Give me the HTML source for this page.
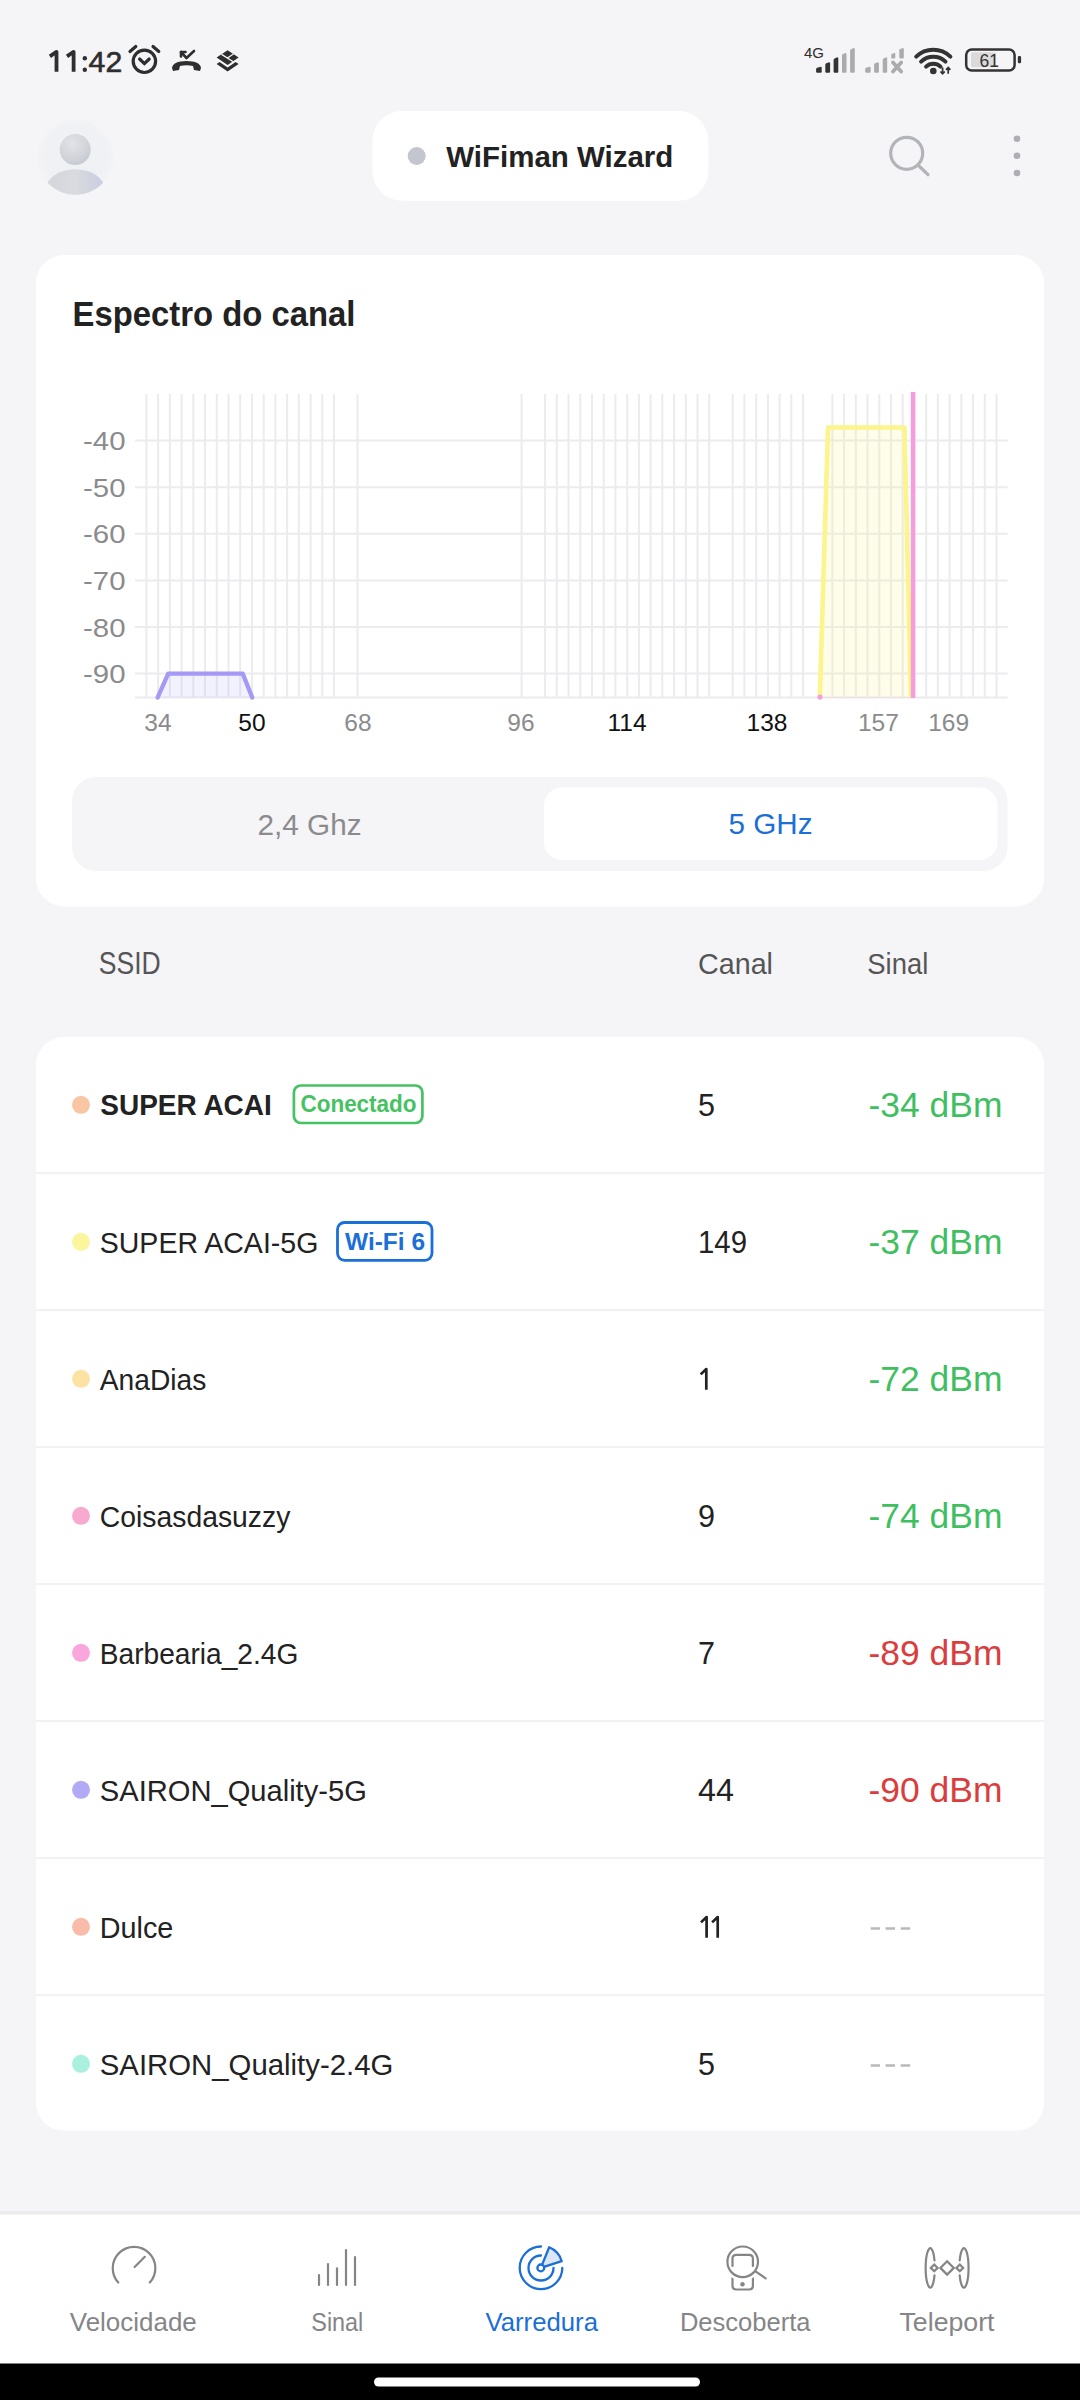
<!DOCTYPE html>
<html><head><meta charset="utf-8"><title>WiFiman</title>
<style>
html,body{margin:0;padding:0;background:#f5f5f7;}
body{width:1080px;height:2400px;overflow:hidden;position:relative;font-family:"Liberation Sans",sans-serif;}
svg{position:absolute;left:0;top:0;}
svg text{font-family:"Liberation Sans",sans-serif;white-space:pre;}
</style></head><body>
<svg width="1080" height="2400" viewBox="0 0 1080 2400">
<path d="M56.5 71.8V51.8L49.9 56.4" stroke="#2e2e2e" stroke-width="3.8" fill="none" stroke-linejoin="round"/>
<path d="M73.6 71.8V51.8L67.0 56.4" stroke="#2e2e2e" stroke-width="3.8" fill="none" stroke-linejoin="round"/>
<circle cx="84.8" cy="58.2" r="2.2" fill="#2e2e2e"/><circle cx="84.8" cy="69.8" r="2.2" fill="#2e2e2e"/>
<text x="88.6" y="71.7" font-size="29.5" font-weight="400" fill="#2e2e2e" text-anchor="start" textLength="33.6" lengthAdjust="spacingAndGlyphs" stroke="#2e2e2e" stroke-width="0.6">42</text>
<g fill="none" stroke="#2e2e2e" stroke-width="3.2" stroke-linecap="round"><circle cx="144.4" cy="61.3" r="11.2"/><path d="M139.6 59 L144.4 63.6 L149.2 59"/><path d="M130 51.5 L135.8 46.5" /><path d="M158.8 51.5 L153 46.5"/></g>
<g fill="#2e2e2e"><path d="M172 68 Q173 61 186.5 61 Q200 61 201 68 L200 71 L194 70 L193 66 Q186.5 64.5 180 66 L179 70 L173 71 Z"/></g><g fill="none" stroke="#2e2e2e" stroke-width="2.6" stroke-linecap="round" stroke-linejoin="round"><path d="M181 52 L186.5 58 L194 51"/><path d="M181 52 L181 56.5 M181 52 L185.5 52"/></g>
<path d="M216.6 57.6 L227.6 50.2 L238.6 57.6 L227.6 65 Z" fill="#2e2e2e"/><path d="M221.6 54.4 L233.2 61.7 M227.4 58 L233.4 54" stroke="#f5f5f7" stroke-width="1.3" fill="none"/><path d="M216.6 64 L219.6 62 L227.6 67.4 L235.6 62 L238.6 64 L227.6 71.5 Z" fill="#2e2e2e"/>
<text x="804" y="57.8" font-size="15" font-weight="400" fill="#2e2e2e" text-anchor="start" textLength="20" lengthAdjust="spacingAndGlyphs" >4G</text>
<path d="M816.1 71.8V69.3Q816.1 68.3 817.1 67.82000000000001L820.7 66.7Q821.7 66.7 821.7 67.7V71.8Q821.7 72.8 820.7 72.8H817.1Q816.1 72.8 816.1 71.8Z" fill="#333"/>
<path d="M825.3 71.8V64.80000000000001Q825.3 63.800000000000004 826.3 63.32L829.1 62.2Q830.1 62.2 830.1 63.2V71.8Q830.1 72.8 829.1 72.8H826.3Q825.3 72.8 825.3 71.8Z" fill="#333"/>
<path d="M833.6 71.8V59.9Q833.6 58.9 834.6 58.419999999999995L837.3 57.3Q838.3 57.3 838.3 58.3V71.8Q838.3 72.8 837.3 72.8H834.6Q833.6 72.8 833.6 71.8Z" fill="#333"/>
<path d="M842 71.8V55.6Q842 54.6 843 54.12L845.5 53Q846.5 53 846.5 54V71.8Q846.5 72.8 845.5 72.8H843Q842 72.8 842 71.8Z" fill="#ababab"/>
<path d="M850.1 71.8V50.7Q850.1 49.7 851.1 49.22L853.8 48.1Q854.8 48.1 854.8 49.1V71.8Q854.8 72.8 853.8 72.8H851.1Q850.1 72.8 850.1 71.8Z" fill="#ababab"/>
<path d="M865.2 71.8V69.3Q865.2 68.3 866.2 67.82000000000001L869.6 66.7Q870.6 66.7 870.6 67.7V71.8Q870.6 72.8 869.6 72.8H866.2Q865.2 72.8 865.2 71.8Z" fill="#ababab"/>
<path d="M874.1 71.8V64.80000000000001Q874.1 63.800000000000004 875.1 63.32L877.9 62.2Q878.9 62.2 878.9 63.2V71.8Q878.9 72.8 877.9 72.8H875.1Q874.1 72.8 874.1 71.8Z" fill="#ababab"/>
<path d="M882.7 71.8V59.9Q882.7 58.9 883.7 58.419999999999995L886.2 57.3Q887.2 57.3 887.2 58.3V71.8Q887.2 72.8 886.2 72.8H883.7Q882.7 72.8 882.7 71.8Z" fill="#ababab"/>
<path d="M891.2 57.6V55.2Q891.2 54.2 892.2 53.84L894.3 53Q895.3 53 895.3 54V57.6Q895.3 58.6 894.3 58.6H892.2Q891.2 58.6 891.2 57.6Z" fill="#ababab"/>
<path d="M899.3 57.6V50.300000000000004Q899.3 49.300000000000004 900.3 48.940000000000005L902.8 48.1Q903.8 48.1 903.8 49.1V57.6Q903.8 58.6 902.8 58.6H900.3Q899.3 58.6 899.3 57.6Z" fill="#ababab"/>
<path d="M893 62.5 L901.2 71.6 M901.2 62.5 L893 71.6" stroke="#ababab" stroke-width="3.8" stroke-linecap="round"/>
<g fill="none" stroke="#333" stroke-width="4" stroke-linecap="round"><path d="M916.2 56.6 A24.6 24.6 0 0 1 950.4 56.6"/><path d="M921.1 61.6 A17.6 17.6 0 0 1 945.5 61.6"/><path d="M926.1 66.6 A10.4 10.4 0 0 1 940.5 66.6"/></g><circle cx="933.3" cy="71" r="3.3" fill="#333"/>
<path d="M942.6 67.5V73.8M940.4 71.5L942.6 73.8L944.8 71.5M948.2 73.8V67.5M946 69.8L948.2 67.5L950.4 69.8" stroke="#333" stroke-width="1.7" fill="none"/>
<rect x="966.2" y="49.5" width="48.4" height="21" rx="5.5" fill="none" stroke="#333" stroke-width="2.5"/><rect x="971" y="52.2" width="25" height="15" rx="1.5" fill="#dadada"/><rect x="1017.8" y="56.1" width="3.3" height="7.2" rx="1.3" fill="#333"/>
<text x="979.6" y="67.4" font-size="18" font-weight="400" fill="#333" text-anchor="start" textLength="19.5" lengthAdjust="spacingAndGlyphs" >61</text>
<defs><radialGradient id="hg" cx="0.4" cy="0.3" r="0.8"><stop offset="0" stop-color="#e2e3e7"/><stop offset="0.6" stop-color="#d2d4da"/><stop offset="1" stop-color="#c3c6d0"/></radialGradient><linearGradient id="bg2" x1="0" y1="0" x2="1" y2="0"><stop offset="0" stop-color="#d3d5da"/><stop offset="0.5" stop-color="#d9dbe0"/><stop offset="1" stop-color="#c8cce0"/></linearGradient><radialGradient id="avg" cx="0.5" cy="0.5" r="0.5"><stop offset="0.8" stop-color="#f0f1f4"/><stop offset="1" stop-color="#f3f3f6"/></radialGradient><clipPath id="avc"><circle cx="75.4" cy="157" r="38"/></clipPath></defs>
<circle cx="75.4" cy="157" r="38" fill="url(#avg)"/>
<circle cx="75.2" cy="149.6" r="15.5" fill="url(#hg)"/>
<ellipse cx="75.3" cy="189.3" rx="29.5" ry="20" fill="url(#bg2)" clip-path="url(#avc)"/>
<rect x="372.3" y="111" width="336" height="89.7" rx="30" fill="#fff"/>
<circle cx="416.7" cy="156" r="9" fill="#c3c5cf"/>
<text x="446.3" y="166.7" font-size="30" font-weight="700" fill="#222" text-anchor="start" textLength="227" lengthAdjust="spacingAndGlyphs" >WiFiman Wizard</text>
<g fill="none" stroke="#b3b4b9" stroke-width="3.2" stroke-linecap="round"><circle cx="906.7" cy="153.3" r="16"/><path d="M919.5 166.5 L928 174.7"/></g>
<circle cx="1017" cy="138.8" r="3.3" fill="#adaeb3"/>
<circle cx="1017" cy="155.8" r="3.3" fill="#adaeb3"/>
<circle cx="1017" cy="173" r="3.3" fill="#adaeb3"/>
<rect x="36" y="255" width="1008" height="651.5" rx="28" fill="#fff"/>
<text x="72.5" y="326" font-size="35" font-weight="700" fill="#222" text-anchor="start" textLength="283" lengthAdjust="spacingAndGlyphs" >Espectro do canal</text>
<path d="M146.4 394V697.6M158.1 394V697.6M169.9 394V697.6M181.6 394V697.6M193.3 394V697.6M205.0 394V697.6M216.8 394V697.6M228.5 394V697.6M240.2 394V697.6M251.9 394V697.6M263.7 394V697.6M275.4 394V697.6M287.1 394V697.6M298.8 394V697.6M310.6 394V697.6M322.3 394V697.6M334.0 394V697.6M357.5 394V697.6M521.6 394V697.6M545.1 394V697.6M556.8 394V697.6M568.5 394V697.6M580.3 394V697.6M592.0 394V697.6M603.7 394V697.6M615.4 394V697.6M627.2 394V697.6M638.9 394V697.6M650.6 394V697.6M662.3 394V697.6M674.1 394V697.6M685.8 394V697.6M697.5 394V697.6M709.2 394V697.6M732.7 394V697.6M744.4 394V697.6M756.2 394V697.6M767.9 394V697.6M779.6 394V697.6M791.3 394V697.6M803.1 394V697.6M832.4 394V697.6M844.1 394V697.6M855.8 394V697.6M867.5 394V697.6M879.3 394V697.6M891.0 394V697.6M902.7 394V697.6M914.5 394V697.6M926.2 394V697.6M937.9 394V697.6M949.6 394V697.6M961.4 394V697.6M973.1 394V697.6M984.8 394V697.6M996.5 394V697.6" stroke="#ececef" stroke-width="2" fill="none"/>
<path d="M135 440.6H1007.6M135 487.2H1007.6M135 533.8H1007.6M135 580.4H1007.6M135 627.0H1007.6M135 673.6H1007.6M135 697.6H1007.6" stroke="#ececef" stroke-width="2" fill="none"/>
<text x="83" y="450.1" font-size="26.5" font-weight="400" fill="#8b8b8d" text-anchor="start" textLength="42.5" lengthAdjust="spacingAndGlyphs" >-40</text>
<text x="83" y="496.70000000000005" font-size="26.5" font-weight="400" fill="#8b8b8d" text-anchor="start" textLength="42.5" lengthAdjust="spacingAndGlyphs" >-50</text>
<text x="83" y="543.3000000000001" font-size="26.5" font-weight="400" fill="#8b8b8d" text-anchor="start" textLength="42.5" lengthAdjust="spacingAndGlyphs" >-60</text>
<text x="83" y="589.9000000000001" font-size="26.5" font-weight="400" fill="#8b8b8d" text-anchor="start" textLength="42.5" lengthAdjust="spacingAndGlyphs" >-70</text>
<text x="83" y="636.5" font-size="26.5" font-weight="400" fill="#8b8b8d" text-anchor="start" textLength="42.5" lengthAdjust="spacingAndGlyphs" >-80</text>
<text x="83" y="683.1" font-size="26.5" font-weight="400" fill="#8b8b8d" text-anchor="start" textLength="42.5" lengthAdjust="spacingAndGlyphs" >-90</text>
<text x="158" y="730.7" font-size="24.5" font-weight="400" fill="#8b8b8d" text-anchor="middle" >34</text>
<text x="252" y="730.7" font-size="24.5" font-weight="400" fill="#111" text-anchor="middle" >50</text>
<text x="358" y="730.7" font-size="24.5" font-weight="400" fill="#8b8b8d" text-anchor="middle" >68</text>
<text x="521" y="730.7" font-size="24.5" font-weight="400" fill="#8b8b8d" text-anchor="middle" >96</text>
<text x="627" y="730.7" font-size="24.5" font-weight="400" fill="#111" text-anchor="middle" >114</text>
<text x="767" y="730.7" font-size="24.5" font-weight="400" fill="#111" text-anchor="middle" >138</text>
<text x="878.4" y="730.7" font-size="24.5" font-weight="400" fill="#8b8b8d" text-anchor="middle" >157</text>
<text x="948.6" y="730.7" font-size="24.5" font-weight="400" fill="#8b8b8d" text-anchor="middle" >169</text>
<path d="M157.6 697.6 L168.2 673.6 L242.7 673.6 L252.3 697.6 Z" fill="#a499f5" fill-opacity="0.14" stroke="none"/>
<path d="M157.6 697.6 L168.2 673.6 L242.7 673.6 L252.3 697.6" fill="none" stroke="#a499f5" stroke-width="4.3" stroke-linejoin="round" stroke-linecap="round"/>
<path d="M819.8 697.6 L828 427.5 L904.4 427.5 L911 697.6 Z" fill="#fcf38a" fill-opacity="0.18" stroke="none"/>
<path d="M819.8 697.6 L828 427.5 L904.4 427.5 L911 697.6" fill="none" stroke="#fcf48c" stroke-width="4.6" stroke-linejoin="round"/>
<path d="M820 697.6 H913" stroke="#f7d0ee" stroke-width="1" stroke-opacity="0.5"/>
<rect x="910.8" y="392" width="4.5" height="306" fill="#f59ddd"/>
<circle cx="820" cy="697" r="2.6" fill="#f59ddd"/>
<rect x="72" y="777" width="935.5" height="94" rx="24" fill="#f5f5f7"/>
<rect x="544" y="787.5" width="453.5" height="72.5" rx="18" fill="#fff"/>
<text x="257.5" y="835" font-size="30" font-weight="400" fill="#8b8b8e" text-anchor="start" textLength="104" lengthAdjust="spacingAndGlyphs" >2,4 Ghz</text>
<text x="728.5" y="834.4" font-size="30" font-weight="400" fill="#1b6fd6" text-anchor="start" textLength="84" lengthAdjust="spacingAndGlyphs" >5 GHz</text>
<text x="98.8" y="973.8" font-size="31" font-weight="400" fill="#555558" text-anchor="start" textLength="62" lengthAdjust="spacingAndGlyphs" >SSID</text>
<text x="698" y="974" font-size="30" font-weight="400" fill="#555558" text-anchor="start" textLength="75" lengthAdjust="spacingAndGlyphs" >Canal</text>
<text x="867.3" y="974" font-size="30" font-weight="400" fill="#555558" text-anchor="start" textLength="61" lengthAdjust="spacingAndGlyphs" >Sinal</text>
<rect x="36" y="1037" width="1008" height="1093.6" rx="28" fill="#fff"/>
<rect x="36" y="1172" width="1008" height="2.2" fill="#f2f2f4"/>
<rect x="36" y="1309" width="1008" height="2.2" fill="#f2f2f4"/>
<rect x="36" y="1446" width="1008" height="2.2" fill="#f2f2f4"/>
<rect x="36" y="1583" width="1008" height="2.2" fill="#f2f2f4"/>
<rect x="36" y="1720" width="1008" height="2.2" fill="#f2f2f4"/>
<rect x="36" y="1857" width="1008" height="2.2" fill="#f2f2f4"/>
<rect x="36" y="1994" width="1008" height="2.2" fill="#f2f2f4"/>
<circle cx="81" cy="1104.8" r="9" fill="#f9c6a4"/>
<text x="100.3" y="1115" font-size="30.3" font-weight="700" fill="#222" text-anchor="start" textLength="171.5" lengthAdjust="spacingAndGlyphs" >SUPER ACAI</text>
<text x="698" y="1115.8" font-size="30.5" font-weight="400" fill="#222" text-anchor="start" textLength="17" lengthAdjust="spacingAndGlyphs" >5</text>
<text x="868.5" y="1116.8" font-size="34.5" font-weight="400" fill="#3fbf5f" text-anchor="start" textLength="134" lengthAdjust="spacingAndGlyphs" >-34 dBm</text>
<circle cx="81" cy="1241.8" r="9" fill="#fbf59c"/>
<text x="99.8" y="1253" font-size="29.3" font-weight="400" fill="#222" text-anchor="start" textLength="218.5" lengthAdjust="spacingAndGlyphs" >SUPER ACAI-5G</text>
<text x="698" y="1252.8" font-size="30.5" font-weight="400" fill="#222" text-anchor="start" textLength="49" lengthAdjust="spacingAndGlyphs" >149</text>
<text x="868.5" y="1253.8" font-size="34.5" font-weight="400" fill="#3fbf5f" text-anchor="start" textLength="134" lengthAdjust="spacingAndGlyphs" >-37 dBm</text>
<circle cx="81" cy="1378.8" r="9" fill="#fde3a3"/>
<text x="99.8" y="1390" font-size="29.3" font-weight="400" fill="#222" text-anchor="start" textLength="106.5" lengthAdjust="spacingAndGlyphs" >AnaDias</text>
<path d="M706.3 1389.8V1369.0L700.7 1374.4" stroke="#222" stroke-width="2.7" fill="none" stroke-linejoin="round"/>
<text x="868.5" y="1390.8" font-size="34.5" font-weight="400" fill="#3fbf5f" text-anchor="start" textLength="134" lengthAdjust="spacingAndGlyphs" >-72 dBm</text>
<circle cx="81" cy="1515.8" r="9" fill="#f8a9d0"/>
<text x="99.8" y="1527" font-size="29.3" font-weight="400" fill="#222" text-anchor="start" textLength="190.5" lengthAdjust="spacingAndGlyphs" >Coisasdasuzzy</text>
<text x="698" y="1526.8" font-size="30.5" font-weight="400" fill="#222" text-anchor="start" textLength="17" lengthAdjust="spacingAndGlyphs" >9</text>
<text x="868.5" y="1527.8" font-size="34.5" font-weight="400" fill="#3fbf5f" text-anchor="start" textLength="134" lengthAdjust="spacingAndGlyphs" >-74 dBm</text>
<circle cx="81" cy="1652.8" r="9" fill="#f9a6dd"/>
<text x="99.8" y="1664" font-size="29.3" font-weight="400" fill="#222" text-anchor="start" textLength="198.5" lengthAdjust="spacingAndGlyphs" >Barbearia_2.4G</text>
<text x="698" y="1663.8" font-size="30.5" font-weight="400" fill="#222" text-anchor="start" textLength="17" lengthAdjust="spacingAndGlyphs" >7</text>
<text x="868.5" y="1664.8" font-size="34.5" font-weight="400" fill="#da3d3d" text-anchor="start" textLength="134" lengthAdjust="spacingAndGlyphs" >-89 dBm</text>
<circle cx="81" cy="1789.8" r="9" fill="#b3aaf6"/>
<text x="99.8" y="1801" font-size="29.3" font-weight="400" fill="#222" text-anchor="start" textLength="267" lengthAdjust="spacingAndGlyphs" >SAIRON_Quality-5G</text>
<text x="698" y="1800.8" font-size="30.5" font-weight="400" fill="#222" text-anchor="start" textLength="36" lengthAdjust="spacingAndGlyphs" >44</text>
<text x="868.5" y="1801.8" font-size="34.5" font-weight="400" fill="#da3d3d" text-anchor="start" textLength="134" lengthAdjust="spacingAndGlyphs" >-90 dBm</text>
<circle cx="81" cy="1926.8" r="9" fill="#f9bbaa"/>
<text x="99.8" y="1938" font-size="29.3" font-weight="400" fill="#222" text-anchor="start" textLength="73.5" lengthAdjust="spacingAndGlyphs" >Dulce</text>
<path d="M706.6 1937.8V1917.0L701.0 1922.4" stroke="#222" stroke-width="2.7" fill="none" stroke-linejoin="round"/>
<path d="M717.7 1937.8V1917.0L712.1 1922.4" stroke="#222" stroke-width="2.7" fill="none" stroke-linejoin="round"/>
<path d="M870.7 1928.5H880M885.6 1928.5H895M900.7 1928.5H910.2" stroke="#b9b9bd" stroke-width="2.6"/>
<circle cx="81" cy="2063.8" r="9" fill="#a9f1de"/>
<text x="99.8" y="2075" font-size="29.3" font-weight="400" fill="#222" text-anchor="start" textLength="293.5" lengthAdjust="spacingAndGlyphs" >SAIRON_Quality-2.4G</text>
<text x="698" y="2074.8" font-size="30.5" font-weight="400" fill="#222" text-anchor="start" textLength="17" lengthAdjust="spacingAndGlyphs" >5</text>
<path d="M870.7 2065.5H880M885.6 2065.5H895M900.7 2065.5H910.2" stroke="#b9b9bd" stroke-width="2.6"/>
<rect x="293.9" y="1085.5" width="128.5" height="37.5" rx="7" fill="none" stroke="#45c262" stroke-width="2.7"/>
<text x="300.5" y="1112" font-size="23.5" font-weight="700" fill="#45c262" text-anchor="start" textLength="116" lengthAdjust="spacingAndGlyphs" >Conectado</text>
<rect x="337.5" y="1222.5" width="94.5" height="37.8" rx="7" fill="none" stroke="#1b6fd9" stroke-width="2.8"/>
<text x="345" y="1249.7" font-size="24" font-weight="700" fill="#1b6fd9" text-anchor="start" textLength="80" lengthAdjust="spacingAndGlyphs" >Wi-Fi 6</text>
<rect x="0" y="2211" width="1080" height="153" fill="#fff"/>
<rect x="0" y="2211" width="1080" height="3.5" fill="#ebebee"/>
<rect x="0" y="2363.5" width="1080" height="36.5" fill="#000"/>
<rect x="374" y="2377.5" width="326" height="9" rx="4.5" fill="#fff"/>
<g fill="none" stroke="#858588" stroke-width="2.2" stroke-linecap="round"><path d="M118.3 2282.5 A21.3 21.3 0 1 1 149.8 2282.5"/><path d="M134.6 2267 L144.8 2256.8"/></g>
<g stroke="#858588" stroke-width="2.2" stroke-linecap="round"><path d="M319 2285V2275"/><path d="M328 2285V2264"/><path d="M337 2285V2268.3"/><path d="M346 2285V2250.1"/><path d="M355 2285V2257"/></g>
<g fill="none" stroke="#1b6fd6" stroke-width="2.3" stroke-linecap="round" stroke-linejoin="round"><path d="M541 2246.5 A21.3 21.3 0 1 0 562.3 2268"/><path d="M541 2255.5 A12.5 12.5 0 1 0 553.5 2268"/><path d="M540.8 2267.9 L549.2 2247.3 A21.3 21.3 0 0 1 561.7 2261.2 Z" fill="#dbe7f7"/><circle cx="540.8" cy="2267.9" r="3.4" fill="#fff"/></g>
<defs><clipPath id="dc"><rect x="700" y="2230" width="100" height="80"/></clipPath><mask id="dm"><rect x="700" y="2230" width="100" height="80" fill="#fff"/><circle cx="742.7" cy="2261.8" r="19" fill="#000"/></mask></defs>
<g fill="none" stroke="#858588" stroke-width="2.2" stroke-linecap="round"><circle cx="742.7" cy="2261.8" r="15.3"/><path d="M755.8 2271.7 L765.7 2278.3"/><path d="M732.5 2266 V2258.5 Q732.5 2254.8 736.2 2254.8 H749.2 Q752.9 2254.8 752.9 2258.5 V2266" /><path d="M732.5 2270 V2285.8 Q732.5 2289.5 736.2 2289.5 H749.2 Q752.9 2289.5 752.9 2285.8 V2270" mask="url(#dm)"/></g>
<circle cx="742.5" cy="2284.2" r="2.2" fill="#858588"/>
<g fill="none" stroke="#858588" stroke-width="2.2" stroke-linecap="round" stroke-linejoin="miter"><path d="M934.5 2260.4 A4.6 19.7 0 1 0 934.5 2275.4"/><path d="M959.7 2260.4 A4.6 19.7 0 1 1 959.7 2275.4"/><path d="M934.2 2264.5 L937.6 2267.9 L934.2 2271.3 L930.8 2267.9 Z"/><path d="M959.8 2264.5 L963.2 2267.9 L959.8 2271.3 L956.4 2267.9 Z"/><path d="M947.1 2261.2 L953.8 2267.9 L947.1 2274.6 L940.4 2267.9 Z"/></g>
<text x="133.3" y="2331.1" font-size="26" font-weight="400" fill="#858588" text-anchor="middle" textLength="127" lengthAdjust="spacingAndGlyphs" >Velocidade</text>
<text x="337.3" y="2331.1" font-size="26" font-weight="400" fill="#858588" text-anchor="middle" textLength="52" lengthAdjust="spacingAndGlyphs" >Sinal</text>
<text x="541.7" y="2331.1" font-size="26" font-weight="400" fill="#1b6fd6" text-anchor="middle" textLength="112.5" lengthAdjust="spacingAndGlyphs" >Varredura</text>
<text x="745.2" y="2331.1" font-size="26" font-weight="400" fill="#858588" text-anchor="middle" textLength="130.5" lengthAdjust="spacingAndGlyphs" >Descoberta</text>
<text x="947" y="2331.1" font-size="26" font-weight="400" fill="#858588" text-anchor="middle" textLength="95" lengthAdjust="spacingAndGlyphs" >Teleport</text>
</svg>
</body></html>
